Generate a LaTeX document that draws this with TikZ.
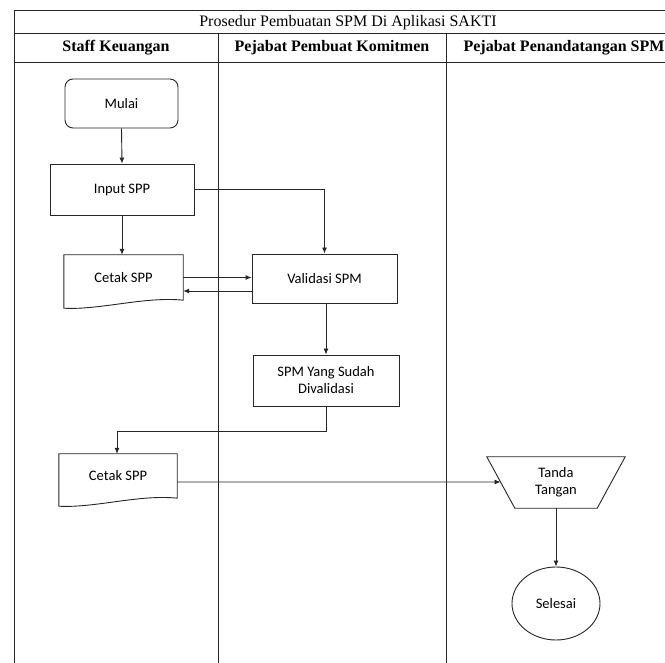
\documentclass[tikz,border=0pt]{standalone}
\usepackage{fontspec}
\setmainfont{Liberation Serif}
\newfontfamily\boxfont{Carlito}
\usetikzlibrary{arrows.meta,calc,shapes.geometric}
\begin{document}
\begin{tikzpicture}[x=1pt,y=-1pt,
  tline/.style={line width=0.9pt,draw=black!85},
  box/.style={draw=black!85,line width=0.9pt,rectangle,align=center,
    font=\boxfont\fontsize{14.5}{17}\selectfont,inner sep=0pt},
  ghost/.style={rectangle,align=center,inner sep=0pt,
    font=\boxfont\fontsize{14.5}{17}\selectfont},
  shapeline/.style={draw=black!85,line width=0.9pt},
  arr/.style={draw=black!85,line width=0.9pt,-{Latex[length=6pt,width=5pt]}},
  title/.style={font=\fontsize{16}{19}\selectfont},
  head/.style={font=\bfseries\fontsize{16}{19}\selectfont}]
\useasboundingbox (0,0) rectangle (665,663);
\clip (0,0) rectangle (665,663);
\fill[white] (0,0) rectangle (665,663);
% table
\draw[tline] (14,10.7) -- (690,10.7);
\draw[tline] (14,33.7) -- (690,33.7);
\draw[tline] (14,62) -- (690,62);
\draw[tline] (14,10.7) -- (14,670);
\draw[tline] (218,33.7) -- (218,670);
\draw[tline] (446,33.7) -- (446,670);
\draw[tline] (682,10.7) -- (682,670);
\node[title] (ttl) at (348,22.2) {Prosedur Pembuatan SPM Di Aplikasi SAKTI};
\node[head] (h1) at (116,47.8) {Staff Keuangan};
\node[head] (h2) at (332,47.8) {Pejabat Pembuat Komitmen};
\node[head] (h3) at (564,47.8) {Pejabat Penandatangan SPM};
% nodes
\node[box,rounded corners=8pt,minimum width=113pt,minimum height=49pt] (mulai) at (121.5,103.5) {Mulai};
\node[box,minimum width=144pt,minimum height=51pt] (input) at (122,189.5) {Input SPP};
\node[ghost,minimum width=119pt,minimum height=45pt] (c1) at (123.5,277.5) {Cetak SPP};
\draw[shapeline] (c1.south west) -- (c1.north west) -- (c1.north east) -- (c1.south east)
  .. controls ($(c1.south east)+(-38,-4)$) and ($(c1.south west)+(36,10)$) .. ($(c1.south west)+(0,8)$) -- cycle;
\node[box,minimum width=145pt,minimum height=49pt] (val) at (324.5,278.5) {Validasi SPM};
\node[box,minimum width=146pt,minimum height=51pt] (spm) at (326,380.5) {SPM Yang Sudah\\Divalidasi};
\node[ghost,minimum width=118pt,minimum height=44pt] (c2) at (118,476) {Cetak SPP};
\draw[shapeline] (c2.south west) -- (c2.north west) -- (c2.north east) -- (c2.south east)
  .. controls ($(c2.south east)+(-38,-4)$) and ($(c2.south west)+(36,10)$) .. ($(c2.south west)+(0,8)$) -- cycle;
\node[ghost,minimum width=138pt,minimum height=51pt] (tt) at (556,482.5) {Tanda\\Tangan};
\draw[shapeline] (tt.north west) -- (tt.north east) -- ($(tt.south east)+(-28,0)$) -- ($(tt.south west)+(28,0)$) -- cycle;
\path (tt.north west) -- coordinate[pos=0.49] (ttin) ($(tt.south west)+(28,0)$);
\node[box,ellipse,minimum width=88pt,minimum height=73pt] (sel) at (556,603.5) {Selesai};
% connectors
\draw[arr] (mulai.south) -- (input.north);
\draw[arr] (input.south) -- (input.south |- c1.north);
\draw[arr] (input.east) -| (val.north);
\draw[arr] (c1.east) -- (val.west |- c1.east);
\coordinate (back) at ($(val.west)+(0,12.5)$);
\draw[arr] (back) -- (back -| c1.east);
\draw[arr] (val.south -| spm.north) -- (spm.north);
\draw[arr] (spm.south) -- ++(0,25) -| ($(c2.north)+(-1,0)$);
\coordinate (c2out) at ($(c2.east)+(0,6)$);
\draw[arr] (c2out) -- (ttin);
\draw[arr] (tt.south) -- (sel.north);
\end{tikzpicture}
\end{document}
